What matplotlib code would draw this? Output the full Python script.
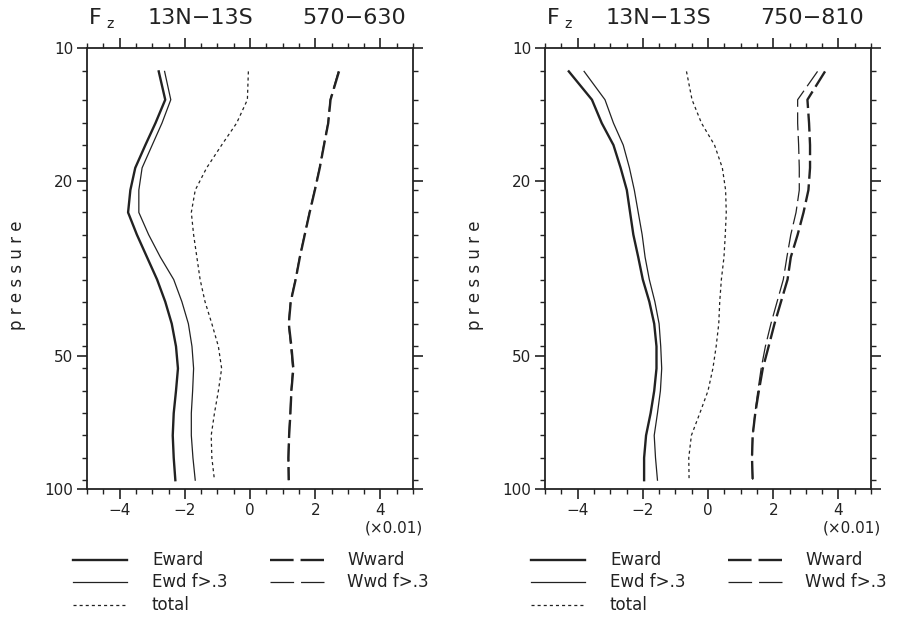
import matplotlib
matplotlib.use('Agg')
import matplotlib.pyplot as plt
from matplotlib.lines import Line2D
from matplotlib.ticker import FixedLocator, FixedFormatter, NullFormatter, MultipleLocator

plt.rcParams['font.family'] = ['DejaVu Sans']
plt.rcParams['lines.scale_dashes'] = False

# pressure levels (hPa) where the profiles are given
pressure = [11.3, 13.1, 14.8, 16.6, 18.7, 21.0, 23.6, 26.5, 29.8, 33.5,
            37.6, 42.2, 47.5, 53.3, 59.9, 67.3, 75.6, 85.0, 95.5]

# left panel: 570-630
left_eward = [-2.80, -2.60, -2.90, -3.21, -3.52, -3.67, -3.74, -3.47, -3.16, -2.85,
              -2.60, -2.40, -2.27, -2.21, -2.27, -2.34, -2.37, -2.34, -2.29]
left_ewd = [-2.62, -2.43, -2.70, -3.00, -3.31, -3.41, -3.41, -3.11, -2.75, -2.34,
            -2.09, -1.89, -1.78, -1.73, -1.76, -1.80, -1.80, -1.75, -1.68]
left_total = [-0.05, -0.08, -0.41, -0.87, -1.33, -1.68, -1.80, -1.73, -1.63, -1.53,
              -1.38, -1.17, -0.97, -0.87, -0.97, -1.09, -1.19, -1.17, -1.09]
left_wward = [2.73, 2.47, 2.40, 2.27, 2.14, 1.99, 1.83, 1.68, 1.53, 1.40,
              1.25, 1.19, 1.27, 1.33, 1.27, 1.24, 1.20, 1.18, 1.19]
left_wwd = [2.71, 2.46, 2.39, 2.26, 2.13, 1.98, 1.82, 1.67, 1.52, 1.39,
            1.24, 1.18, 1.25, 1.31, 1.26, 1.23, 1.19, 1.17, 1.18]

# right panel: 750-810
right_eward = [-4.27, -3.56, -3.26, -2.90, -2.68, -2.49, -2.39, -2.29, -2.14, -2.00,
               -1.80, -1.65, -1.58, -1.58, -1.65, -1.76, -1.90, -1.96, -1.96]
right_ewd = [-3.80, -3.16, -2.90, -2.60, -2.41, -2.26, -2.14, -2.02, -1.93, -1.80,
             -1.63, -1.50, -1.45, -1.42, -1.46, -1.55, -1.65, -1.61, -1.55]
right_total = [-0.66, -0.49, -0.20, 0.20, 0.44, 0.54, 0.56, 0.53, 0.49, 0.41,
               0.36, 0.33, 0.25, 0.15, 0.00, -0.25, -0.51, -0.59, -0.58]
right_wward = [3.59, 3.05, 3.10, 3.13, 3.13, 3.08, 2.93, 2.75, 2.54, 2.44,
               2.24, 2.04, 1.86, 1.68, 1.56, 1.45, 1.37, 1.35, 1.37]
right_wwd = [3.36, 2.75, 2.75, 2.78, 2.80, 2.80, 2.70, 2.54, 2.42, 2.31,
             2.12, 1.93, 1.76, 1.63, 1.53, 1.44, 1.37, 1.35, 1.37]

periods = ['570\u2212630', '750\u2212810']
region = '13N\u221213S'
y_ticks = [10, 20, 50, 100]
x_ticks = [-4, -2, 0, 2, 4]
x_ticklabels = ['\u22124', '\u22122', '0', '2', '4']
labels = ['Eward', 'Ewd f>.3', 'total', 'Wward', 'Wwd f>.3']

INK = '#222222'
styles = [
    dict(color=INK, lw=1.7, ls='-'),
    dict(color=INK, lw=0.9, ls='-'),
    dict(color=INK, lw=0.9, ls=(0, (2.2, 2.2))),
    dict(color=INK, lw=1.7, ls=(0, (13, 4))),
    dict(color=INK, lw=0.9, ls=(0, (13, 4))),
]
# legend samples: two whole dashes for the long-dash styles
legend_ls = ['-', '-', (0, (2.2, 2.2)), (0, (17, 5)), (0, (17, 5))]

W, H = 906, 617
fig = plt.figure(figsize=(W / 100, H / 100), dpi=100)

panels = [
    (87, [left_eward, left_ewd, left_total, left_wward, left_wwd]),
    (545, [right_eward, right_ewd, right_total, right_wward, right_wwd]),
]

for i, (x0, series) in enumerate(panels):
    ax = fig.add_axes([x0 / W, 1 - 489 / H, 326 / W, 441 / H])
    for vals, st in zip(series, styles):
        ax.plot(vals, pressure, **st)
    ax.set_yscale('log')
    ax.set_ylim(100, 10)
    ax.set_xlim(-5, 5)
    ax.yaxis.set_major_locator(FixedLocator(y_ticks))
    ax.yaxis.set_minor_locator(FixedLocator(pressure))
    ax.yaxis.set_major_formatter(FixedFormatter([str(v) for v in y_ticks]))
    ax.yaxis.set_minor_formatter(NullFormatter())
    ax.xaxis.set_major_locator(FixedLocator(x_ticks))
    ax.xaxis.set_minor_locator(MultipleLocator(0.5))
    ax.set_xticklabels(x_ticklabels)
    ax.tick_params(which='major', direction='out', length=7, width=1.2, color=INK,
                   labelsize=11, labelcolor=INK, pad=3,
                   top=True, right=True, labeltop=False, labelright=False)
    ax.tick_params(which='minor', direction='out', length=3.5, width=1.0, color=INK,
                   top=True, right=True)
    for sp in ax.spines.values():
        sp.set_linewidth(1.3)
        sp.set_color(INK)

    # panel title
    fig.text((x0 + 2) / W, 1 - 18 / H, 'F', fontsize=16, color=INK, va='center')
    fig.text((x0 + 19) / W, 1 - 24 / H, 'z', fontsize=10, color=INK, va='center')
    fig.text((x0 + 61) / W, 1 - 18 / H, region, fontsize=16, color=INK, va='center')
    fig.text((x0 + 215) / W, 1 - 18 / H, periods[i], fontsize=16, color=INK, va='center')

    # y label
    fig.text((x0 - 70) / W, 1 - 275 / H, 'p r e s s u r e', rotation=90,
             fontsize=12, color=INK, ha='center', va='center')
    # scale note
    fig.text((x0 + 336) / W, 1 - 528 / H, '(\u00d70.01)', fontsize=11, color=INK,
             ha='right', va='center')

    # legend drawn by hand below the panel
    rows = [560, 582, 605]
    cols = [(x0 - 14, x0 + 40, x0 + 65), (x0 + 183, x0 + 237, x0 + 260)]
    for k, (lab, st) in enumerate(zip(labels, styles)):
        c = 0 if k < 3 else 1
        r = k if k < 3 else k - 3
        xa, xb, xt = cols[c]
        yy = 1 - rows[r] / H
        fig.add_artist(Line2D([xa / W, xb / W], [yy, yy], transform=fig.transFigure,
                              color=st['color'], lw=st['lw'], ls=legend_ls[k]))
        fig.text(xt / W, yy, lab, fontsize=12, color=INK, va='center')

fig.savefig('out.png', dpi=100)
